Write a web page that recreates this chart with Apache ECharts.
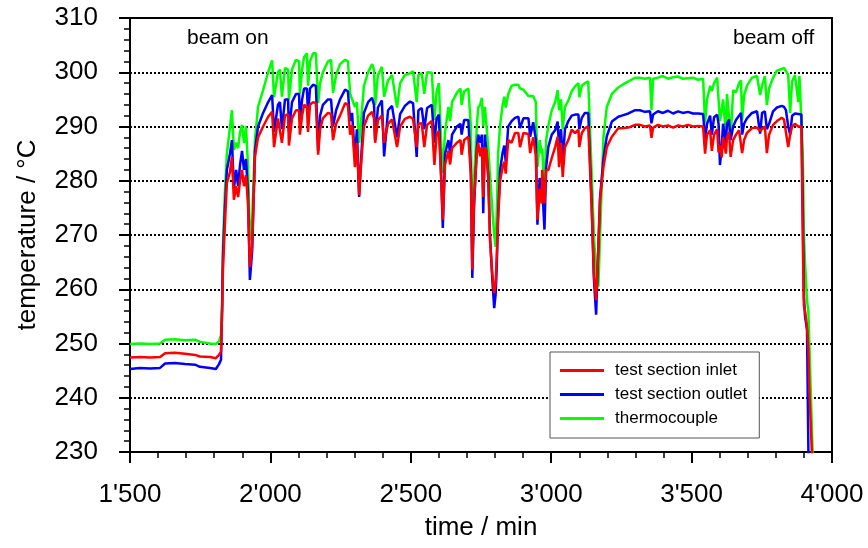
<!DOCTYPE html>
<html>
<head>
<meta charset="utf-8">
<script src="https://cdn.jsdelivr.net/npm/echarts@6/dist/echarts.min.js"></script>
<style>
  html, body { margin: 0; padding: 0; background: #fff; }
  #chart { width: 868px; height: 548px; }
</style>
</head>
<body>
<div id="chart"></div>
<script>
// Time of each sample (min)
const timeMin = [
  1500, 1536, 1571, 1607, 1625, 1660, 1696, 1732, 1749, 1785, 1806, 1817, 1824, 1828, 1831, 1838, 1845, 1856, 1863, 1870,
  1878, 1885, 1892, 1899, 1906, 1913, 1920, 1927, 1935, 1945, 1956, 1974, 1992, 2006, 2013, 2027, 2034, 2041, 2052, 2063,
  2066, 2077, 2091, 2102, 2105, 2113, 2120, 2130, 2134, 2141, 2152, 2162, 2170, 2177, 2187, 2205, 2216, 2223, 2234, 2248,
  2266, 2276, 2284, 2291, 2301, 2308, 2316, 2323, 2333, 2348, 2362, 2369, 2373, 2383, 2397, 2405, 2419, 2433, 2451, 2462,
  2479, 2497, 2508, 2515, 2521, 2527, 2539, 2548, 2558, 2575, 2581, 2584, 2592, 2600, 2608, 2614, 2622, 2634, 2640, 2647,
  2664, 2677, 2681, 2690, 2705, 2711, 2714, 2719, 2725, 2735, 2740, 2747, 2753, 2758, 2764, 2770, 2776, 2782, 2790, 2797,
  2802, 2806, 2811, 2818, 2827, 2833, 2838, 2847, 2859, 2871, 2883, 2889, 2901, 2919, 2925, 2936, 2945, 2951, 2959, 2966,
  2968, 2976, 2982, 2990, 3002, 3014, 3023, 3028, 3035, 3041, 3049, 3061, 3073, 3085, 3097, 3100, 3109, 3120, 3132, 3138,
  3144, 3152, 3160, 3168, 3174, 3186, 3198, 3216, 3239, 3257, 3275, 3299, 3316, 3334, 3352, 3357, 3363, 3380, 3398, 3416,
  3434, 3452, 3469, 3487, 3505, 3523, 3541, 3548, 3555, 3566, 3572, 3580, 3591, 3596, 3601, 3607, 3612, 3622, 3626, 3633,
  3639, 3648, 3658, 3669, 3676, 3680, 3687, 3697, 3715, 3733, 3740, 3744, 3751, 3761, 3768, 3776, 3790, 3804, 3821, 3829,
  3836, 3844, 3851, 3858, 3868, 3875, 3880, 3884, 3891, 3896, 3900, 3904, 3911, 3916, 3919, 3928, 3932
];

// Test section inlet temperature (°C)
const inletC = [
  247.4, 247.5, 247.4, 247.5, 248.2, 248.3, 248.1, 247.9, 247.6, 247.5, 247.3, 247.9, 248.5, 256.0, 263.6, 272.0, 279.6, 281.6, 284.4, 276.5,
  279.0, 277.0, 280.0, 282.0, 279.0, 281.0, 276.0, 264.1, 268.0, 284.4, 288.0, 290.0, 291.8, 292.7, 286.2, 291.5, 291.8, 287.0, 292.0, 292.3,
  286.5, 291.5, 293.0, 293.0, 288.5, 292.0, 294.0, 293.6, 289.0, 294.0, 294.5, 294.3, 284.8, 289.5, 291.5, 292.5, 292.3, 287.5, 290.5, 292.0,
  294.3, 294.0, 288.5, 290.3, 282.5, 287.0, 277.4, 283.0, 290.0, 292.0, 292.7, 291.5, 287.0, 291.2, 292.0, 287.0, 290.5, 291.3, 286.2, 290.0,
  291.4, 291.8, 291.4, 291.2, 286.2, 290.5, 290.6, 286.2, 290.3, 291.0, 291.0, 282.9, 288.5, 289.2, 280.7, 272.8, 283.0, 285.5, 283.0, 286.0,
  287.0, 287.5, 284.8, 287.5, 288.1, 288.3, 281.0, 263.6, 276.0, 285.0, 287.0, 284.5, 286.2, 277.0, 286.2, 285.5, 280.0, 269.1, 263.0, 259.3,
  261.0, 266.0, 273.0, 280.0, 282.5, 283.5, 281.3, 287.5, 287.0, 288.8, 288.8, 286.2, 288.8, 288.6, 285.1, 288.0, 284.8, 272.8, 278.5, 275.8,
  282.0, 275.8, 282.0, 282.0, 284.2, 286.2, 288.1, 282.5, 287.0, 280.7, 286.2, 287.5, 289.4, 288.8, 289.4, 286.2, 288.8, 289.7, 290.0, 289.8,
  275.2, 263.0, 258.0, 267.8, 276.5, 282.5, 286.2, 288.1, 289.7, 289.7, 289.8, 290.3, 290.3, 290.0, 290.2, 287.9, 289.8, 290.3, 290.0, 290.2,
  289.8, 290.2, 290.0, 290.3, 290.0, 290.1, 290.0, 285.0, 288.5, 289.3, 285.5, 288.5, 289.5, 285.2, 286.5, 284.3, 288.0, 285.0, 288.0, 289.0,
  284.4, 287.5, 288.5, 289.3, 289.5, 285.1, 287.5, 288.8, 289.7, 289.8, 289.6, 289.2, 289.5, 290.0, 285.1, 288.5, 290.3, 291.0, 291.6, 291.3,
  291.0, 286.2, 288.5, 290.0, 290.5, 290.3, 290.0, 290.3, 290.0, 269.0, 257.0, 256.0, 253.0, 249.0, 242.0, 230.4, 226.0
];

// Test section outlet temperature (°C)
const outletC = [
  245.3, 245.5, 245.4, 245.5, 246.3, 246.4, 246.2, 246.1, 245.7, 245.5, 245.3, 246.2, 247.0, 256.5, 266.0, 275.0, 282.0, 285.0, 287.5, 278.5,
  282.0, 279.0, 283.0, 285.5, 282.0, 284.0, 278.0, 261.7, 267.0, 285.5, 290.0, 292.5, 294.5, 295.8, 289.0, 294.0, 294.5, 289.5, 295.0, 295.0,
  289.0, 294.5, 296.0, 296.0, 291.0, 295.0, 297.0, 297.0, 292.0, 297.0, 297.7, 297.5, 285.5, 292.0, 294.0, 295.0, 295.0, 290.0, 293.0, 295.0,
  296.8, 296.5, 291.0, 292.5, 284.0, 289.5, 277.0, 284.0, 292.5, 294.5, 295.3, 294.0, 287.5, 293.5, 294.8, 284.5, 293.0, 293.8, 288.0, 292.3,
  293.8, 294.6, 294.3, 294.3, 284.4, 293.0, 293.4, 289.5, 293.4, 294.0, 294.0, 287.0, 291.5, 292.2, 281.0, 271.3, 285.0, 287.5, 285.0, 288.5,
  290.0, 290.5, 288.5, 291.2, 291.2, 291.0, 282.0, 262.1, 275.0, 286.0, 288.5, 287.0, 288.5, 274.0, 288.5, 288.8, 281.0, 270.0, 262.0, 256.5,
  259.0, 264.0, 274.0, 282.0, 285.2, 286.5, 283.5, 290.0, 291.0, 291.6, 291.8, 289.7, 291.5, 291.5, 288.1, 290.8, 287.7, 271.9, 280.5, 278.5,
  279.0, 271.0, 282.5, 286.3, 288.5, 289.3, 290.9, 286.2, 289.5, 283.5, 289.5, 291.0, 292.0, 292.2, 292.2, 289.5, 291.6, 292.5, 292.5, 292.5,
  276.0, 262.0, 255.3, 268.0, 277.0, 284.0, 288.2, 290.9, 291.8, 292.1, 292.4, 293.0, 293.0, 292.7, 292.8, 290.6, 292.2, 292.8, 292.5, 292.9,
  292.4, 292.8, 292.5, 292.7, 292.4, 292.4, 292.3, 287.7, 290.5, 292.0, 288.5, 291.7, 292.2, 290.5, 282.9, 286.0, 290.5, 287.0, 290.5, 291.3,
  287.5, 290.0, 291.2, 292.0, 292.5, 288.5, 290.5, 291.5, 292.5, 292.8, 292.7, 288.7, 292.5, 292.8, 289.5, 290.5, 292.8, 293.5, 293.8, 293.6,
  293.0, 290.0, 288.5, 292.0, 292.4, 292.3, 292.3, 292.3, 292.2, 275.0, 258.5, 255.0, 252.5, 230.0, 225.0, 222.0, 220.0
];

// Thermocouple temperature (°C)
const thermoC = [
  249.9, 250.0, 249.9, 250.0, 250.7, 250.8, 250.6, 250.7, 250.3, 250.0, 249.9, 250.4, 251.5, 257.0, 268.0, 278.0, 285.0, 289.9, 293.0, 285.7,
  287.0, 286.0, 289.0, 290.3, 287.0, 290.0, 283.0, 269.0, 273.0, 287.5, 293.6, 296.7, 300.0, 302.2, 295.4, 300.0, 300.5, 295.5, 300.8, 300.5,
  295.0, 300.5, 302.3, 302.0, 296.0, 300.5, 302.8, 303.5, 297.5, 302.0, 303.5, 303.5, 294.3, 298.0, 300.0, 302.0, 302.3, 296.2, 299.5, 301.5,
  302.3, 302.0, 296.0, 295.0, 293.6, 294.5, 287.0, 291.0, 297.5, 300.0, 301.5, 300.5, 294.0, 299.5, 301.0, 295.5, 298.5, 299.5, 293.5, 298.0,
  299.5, 299.8, 300.2, 300.4, 294.5, 299.5, 299.8, 296.0, 300.0, 299.9, 300.0, 291.2, 296.5, 298.0, 287.0, 281.4, 289.0, 293.6, 291.0, 294.5,
  296.2, 297.0, 294.0, 296.5, 297.0, 297.0, 290.0, 266.0, 280.0, 290.0, 293.5, 294.0, 295.3, 290.0, 293.6, 293.6, 286.0, 281.0, 275.0, 270.0,
  267.8, 274.0, 285.0, 290.3, 294.0, 295.5, 293.5, 296.0, 297.5, 297.7, 297.7, 297.0, 296.8, 295.6, 295.4, 295.6, 294.5, 282.5, 287.5, 285.0,
  286.0, 277.7, 287.5, 290.2, 293.0, 294.5, 296.7, 293.0, 295.0, 289.5, 293.6, 294.8, 296.5, 297.4, 298.0, 295.4, 297.5, 298.0, 298.3, 298.3,
  281.4, 270.0, 263.0, 260.5, 270.0, 288.0, 293.6, 296.0, 297.2, 297.8, 298.3, 299.0, 299.0, 298.8, 299.0, 293.0, 298.8, 299.0, 299.3, 298.8,
  299.1, 299.2, 298.8, 298.9, 299.0, 298.6, 298.8, 290.6, 295.0, 297.5, 296.5, 298.0, 299.0, 299.2, 291.0, 293.0, 295.0, 288.8, 296.0, 292.0,
  287.5, 296.7, 296.3, 298.0, 298.5, 291.2, 295.8, 297.5, 299.0, 299.3, 299.0, 295.8, 297.5, 299.3, 294.0, 297.0, 299.0, 300.3, 300.6, 300.8,
  300.2, 299.5, 292.5, 298.3, 299.5, 299.5, 294.5, 299.3, 299.3, 285.0, 270.0, 264.8, 258.0, 255.8, 255.6, 235.0, 228.0
];

const seriesNames = ['test section inlet', 'test section outlet', 'thermocouple'];
const seriesColors = ['#ff0000', '#0000ff', '#00ff00'];
const seriesValues = [inletC, outletC, thermoC];

const xTickLabels = { 1500: "1'500", 2000: "2'000", 2500: "2'500", 3000: "3'000", 3500: "3'500", 4000: "4'000" };
const phaseLabels = ['beam on', 'beam off'];

const FONT = "'Liberation Sans', Arial, Helvetica, sans-serif";

function pairs(values) {
  return timeMin.map((t, i) => [t, values[i]]);
}

// draw thermocouple first, inlet last (on top)
const drawOrder = [2, 1, 0];
const series = drawOrder.map(i => ({
  name: seriesNames[i],
  type: 'line',
  data: pairs(seriesValues[i]),
  showSymbol: false,
  symbol: 'none',
  sampling: null,
  clip: true,
  animation: false,
  lineStyle: { color: seriesColors[i], width: 2.5 },
  itemStyle: { color: seriesColors[i] }
}));

const chart = echarts.init(document.getElementById('chart'), null, { renderer: 'canvas' });

chart.setOption({
  animation: false,
  backgroundColor: '#fff',
  textStyle: { fontFamily: FONT },
  grid: {
    left: 130, right: 36, top: 18, bottom: 96,
    show: true, borderColor: '#000', borderWidth: 2, backgroundColor: 'transparent'
  },
  xAxis: {
    type: 'value',
    min: 1500, max: 4000, interval: 500,
    name: 'time / min',
    nameLocation: 'middle',
    nameGap: 63,
    nameTextStyle: { fontSize: 26, color: '#000', fontFamily: FONT },
    axisLine: { onZero: false, lineStyle: { color: '#000', width: 2 } },
    axisTick: { length: 11, lineStyle: { color: '#000', width: 2 } },
    minorTick: { show: true, splitNumber: 5, length: 6, lineStyle: { color: '#000', width: 1.5 } },
    axisLabel: {
      fontSize: 26, color: '#000', margin: 30, fontFamily: FONT,
      formatter: v => xTickLabels[v] || String(v)
    },
    splitLine: { show: false }
  },
  yAxis: {
    type: 'value',
    min: 230, max: 310, interval: 10,
    name: 'temperature / °C',
    nameLocation: 'middle',
    nameGap: 89,
    nameRotate: 90,
    nameTextStyle: { fontSize: 26, color: '#000', fontFamily: FONT },
    axisLine: { onZero: false, lineStyle: { color: '#000', width: 2 } },
    axisTick: { length: 11, lineStyle: { color: '#000', width: 2 } },
    minorTick: { show: true, splitNumber: 5, length: 6, lineStyle: { color: '#000', width: 1.5 } },
    axisLabel: { fontSize: 26, color: '#000', margin: 32, fontFamily: FONT },
    splitLine: { show: true, lineStyle: { color: '#000', width: 2, type: [2, 2] } }
  },
  legend: {
    data: seriesNames,
    orient: 'vertical',
    left: 550,
    top: 352,
    padding: [10, 12, 11, 10],
    itemGap: 7,
    itemWidth: 44,
    itemHeight: 3,
    icon: 'rect',
    backgroundColor: '#fff',
    borderColor: '#555',
    borderWidth: 1,
    textStyle: { fontSize: 17, color: '#000', fontFamily: FONT, padding: [0, 0, 0, 6] }
  },
  graphic: [
    { type: 'text', left: 187, top: 28, style: { text: phaseLabels[0], font: '21px ' + FONT, fill: '#000' } },
    { type: 'text', left: 733, top: 28, style: { text: phaseLabels[1], font: '21px ' + FONT, fill: '#000' } }
  ],
  series: series
});
</script>
</body>
</html>
